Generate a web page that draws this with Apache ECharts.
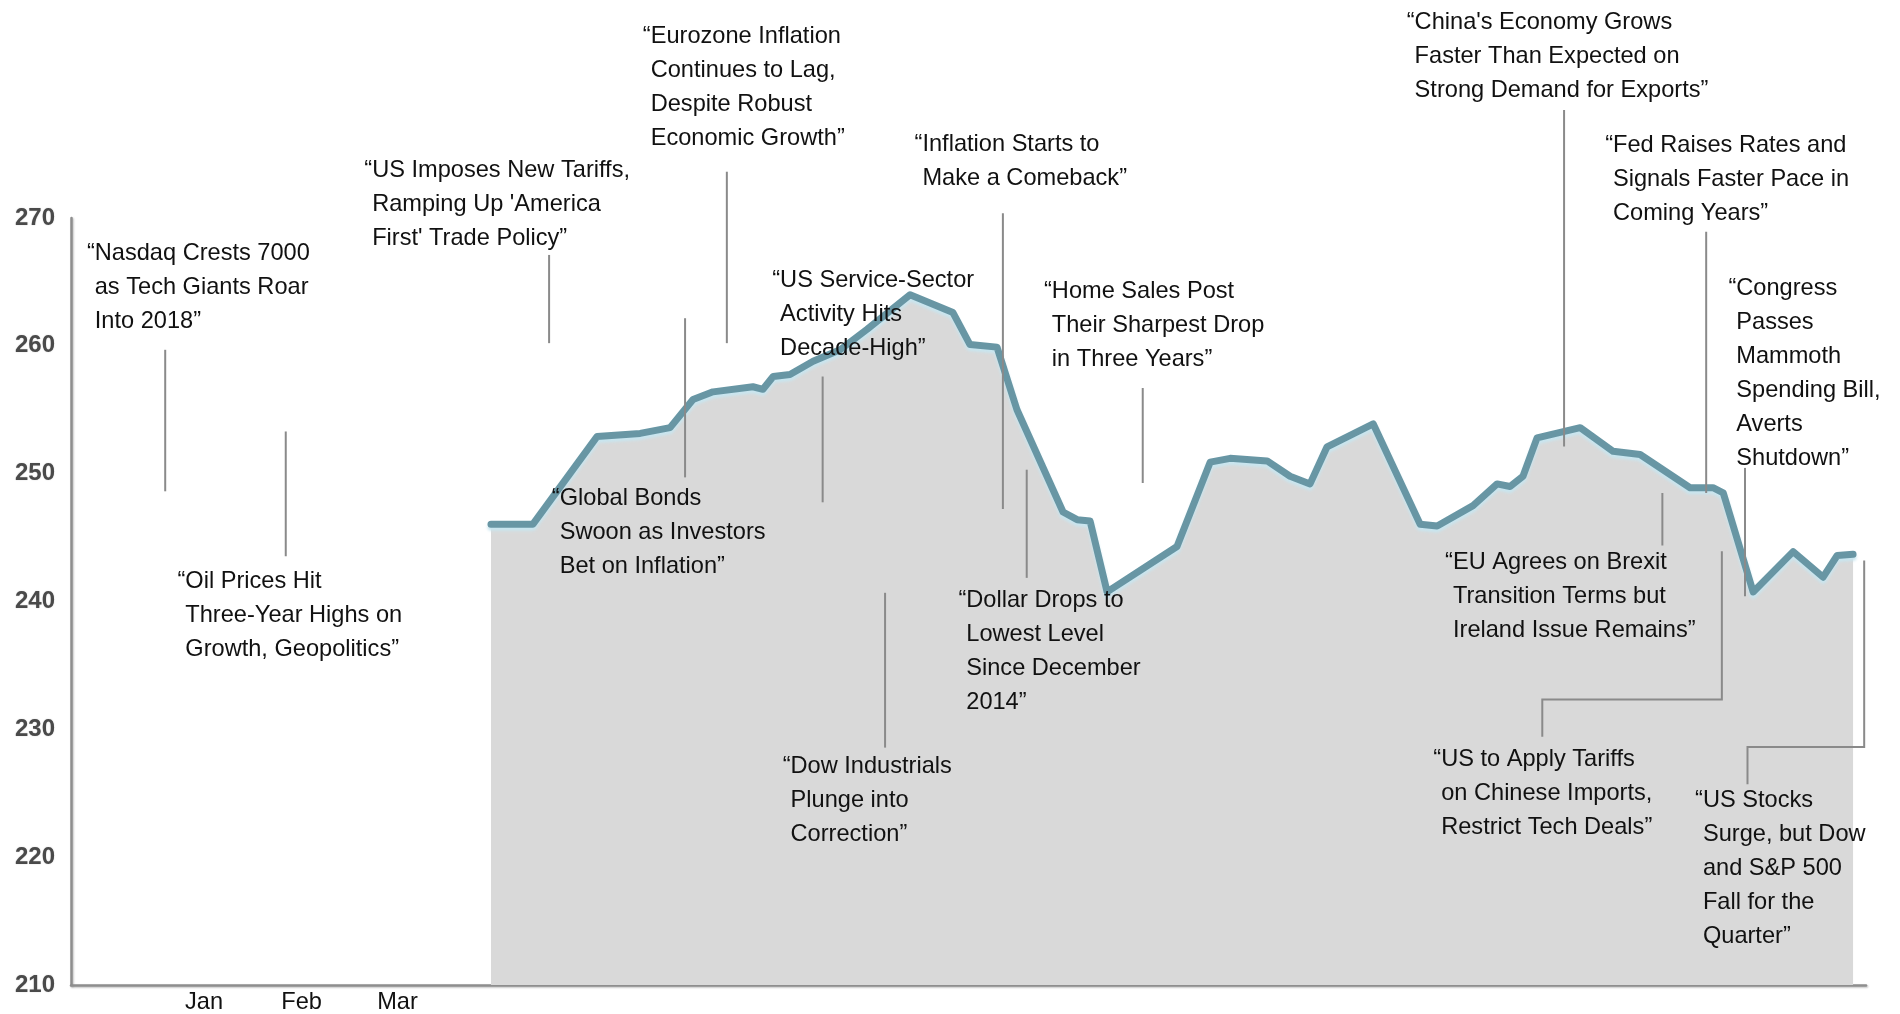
<!DOCTYPE html>
<html>
<head>
<meta charset="utf-8">
<script src="https://cdn.jsdelivr.net/npm/echarts@6/dist/echarts.min.js"></script>
<style>
  html, body { margin: 0; padding: 0; background: #ffffff; }
  #chart { width: 1900px; height: 1014px; }
</style>
</head>
<body>
<div id="chart"></div>
<script>
// ---- data ----------------------------------------------------------------
// Turning points of the index over the quarter: position on the session scale
// and the index level there.
const sessionPos = [
  18.50, 20.35, 23.17, 25.07, 26.39, 27.40, 28.28, 30.04, 30.48, 30.93,
  31.67, 32.69, 33.88, 35.07, 36.96, 38.85, 39.60, 40.79, 41.67, 43.70,
  44.32, 44.89, 45.64, 48.72, 50.18, 51.06, 52.69, 53.70, 54.58, 55.33,
  57.36, 59.43, 60.18, 61.76, 62.82, 63.39, 63.96, 64.58, 66.48, 67.93,
  69.12, 71.32, 72.33, 72.78, 74.10, 75.86, 77.18, 77.80, 78.50
];
const indexLevel = [
  246.05, 246.05, 252.9, 253.15, 253.6, 255.8, 256.4, 256.8, 256.6, 257.6,
  257.75, 258.8, 259.7, 261.3, 264.0, 262.6, 260.1, 259.9, 255.0, 247.0,
  246.4, 246.3, 240.75, 244.3, 250.9, 251.2, 251.0, 249.8, 249.2, 252.1,
  253.9, 246.05, 245.9, 247.5, 249.2, 249.0, 249.8, 252.8, 253.6, 251.75,
  251.5, 248.9, 248.9, 248.5, 240.75, 243.9, 241.9, 243.6, 243.7
];

// Value axis range and step
const levelMin = 210;
const levelMax = 270;
const levelStep = 10;

// Month labels along the bottom axis
const monthLabels = ['Jan', 'Feb', 'Mar'];
const monthPos = [5.86, 10.16, 14.38];

// Headlines, one entry per line of text
const headlines = [
  ['“Nasdaq Crests 7000', 'as Tech Giants Roar', 'Into 2018”'],
  ['“Oil Prices Hit', 'Three-Year Highs on', 'Growth, Geopolitics”'],
  ['“US Imposes New Tariffs,', "Ramping Up 'America", "First' Trade Policy”"],
  ['“Eurozone Inflation', 'Continues to Lag,', 'Despite Robust', 'Economic Growth”'],
  ['“Global Bonds', 'Swoon as Investors', 'Bet on Inflation”'],
  ['“US Service-Sector', 'Activity Hits', 'Decade-High”'],
  ['“Dow Industrials', 'Plunge into', 'Correction”'],
  ['“Inflation Starts to', 'Make a Comeback”'],
  ['“Dollar Drops to', 'Lowest Level', 'Since December', '2014”'],
  ['“Home Sales Post', 'Their Sharpest Drop', 'in Three Years”'],
  ['“China\'s Economy Grows', 'Faster Than Expected on', 'Strong Demand for Exports”'],
  ['“Fed Raises Rates and', 'Signals Faster Pace in', 'Coming Years”'],
  ['“Congress', 'Passes', 'Mammoth', 'Spending Bill,', 'Averts', 'Shutdown”'],
  ['“EU Agrees on Brexit', 'Transition Terms but', 'Ireland Issue Remains”'],
  ['“US to Apply Tariffs', 'on Chinese Imports,', 'Restrict Tech Deals”'],
  ['“US Stocks', 'Surge, but Dow', 'and S&P 500', 'Fall for the', 'Quarter”']
];

// ---- layout of the headline callouts (in axis units) -----------------------
// anchor: left edge / first-line middle of each headline; leader: connector path
const calloutLayout = [
  { anchor: [0.70, 267.24],  leader: [[4.15, 259.69], [4.15, 248.62]] },
  { anchor: [4.69, 241.59],  leader: [[9.46, 253.30], [9.46, 243.54]] },
  { anchor: [12.92, 273.75], leader: [[21.06, 267.11], [21.06, 260.21]] },
  { anchor: [25.19, 284.22], leader: [[28.89, 273.62], [28.89, 260.21]] },
  { anchor: [21.18, 248.05], leader: [[27.05, 262.16], [27.05, 249.71]] },
  { anchor: [30.89, 265.08], leader: [[33.11, 257.60], [33.11, 247.76]] },
  { anchor: [31.35, 227.09], leader: [[35.86, 240.68], [35.86, 228.57]] },
  { anchor: [37.16, 275.78], leader: [[41.05, 270.37], [41.05, 247.24]] },
  { anchor: [39.09, 240.10], leader: [[42.10, 250.31], [42.10, 241.85]] },
  { anchor: [42.86, 264.22], leader: [[47.21, 256.70], [47.21, 249.27]] },
  { anchor: [58.84, 285.29], leader: [[65.77, 278.44], [65.77, 252.13]] },
  { anchor: [67.58, 275.65], leader: [[72.03, 268.93], [72.03, 248.49]] },
  { anchor: [73.01, 264.49], leader: [[73.74, 250.45], [73.74, 240.41]] },
  { anchor: [60.53, 243.09], leader: [[70.10, 248.49], [70.10, 244.38]] },
  { anchor: [60.01, 227.62],
    leader: [[72.72, 243.93], [72.72, 232.34], [64.81, 232.34], [64.81, 229.42]] },
  { anchor: [71.54, 224.47],
    leader: [[78.99, 243.21], [78.99, 228.62], [73.85, 228.62], [73.85, 225.70]] }
];

const FONT = '"Liberation Sans", Arial, Helvetica, sans-serif';
const TEXT_SIZE = 23.6;
const LINE_H = 34;
const QUOTE_W = 0.333 * TEXT_SIZE;

const chart = echarts.init(document.getElementById('chart'), null, { renderer: 'canvas' });

const axisLineStyle = {
  color: '#8e8e8e',
  width: 2.5,
  shadowColor: 'rgba(0,0,0,0.25)',
  shadowBlur: 2,
  shadowOffsetX: 1,
  shadowOffsetY: 1
};

chart.setOption({
  animation: false,
  backgroundColor: '#ffffff',
  grid: { left: 71, right: 34, top: 218, bottom: 28, containLabel: false },
  xAxis: {
    type: 'value',
    min: 0,
    max: 79.07,
    axisLine: { show: true, lineStyle: axisLineStyle },
    axisTick: { show: false },
    splitLine: { show: false },
    axisLabel: {
      customValues: monthPos,
      margin: 5,
      color: '#111111',
      fontFamily: FONT,
      fontSize: 23.6,
      formatter: function (v) {
        const i = monthPos.findIndex(p => Math.abs(p - v) < 1e-6);
        return i >= 0 ? monthLabels[i] : '';
      }
    }
  },
  yAxis: {
    type: 'value',
    min: levelMin,
    max: levelMax,
    interval: levelStep,
    axisLine: { show: true, lineStyle: axisLineStyle },
    axisTick: { show: false },
    splitLine: { show: false },
    axisLabel: {
      margin: 16,
      color: '#4a4a4a',
      fontFamily: FONT,
      fontWeight: 'bold',
      fontSize: 24,
      textShadowColor: 'rgba(0,0,0,0.2)',
      textShadowBlur: 1.5
    }
  },
  series: [{
    type: 'line',
    data: sessionPos.map((x, i) => [x, indexLevel[i]]),
    showSymbol: false,
    symbol: 'none',
    z: 3,
    lineStyle: {
      color: '#6896a4',
      width: 7,
      join: 'round',
      cap: 'round',
      shadowColor: 'rgba(200,230,240,1)',
      shadowBlur: 3,
      shadowOffsetY: 3
    },
    areaStyle: { color: '#d9d9d9', opacity: 1, origin: 'start' }
  }]
});

// ---- headline callouts -------------------------------------------------------
const toPx = p => chart.convertToPixel({ gridIndex: 0 }, p);
const callouts = [];
headlines.forEach((lines, i) => {
  const lay = calloutLayout[i];
  const a = toPx(lay.anchor);
  const first = lines[0];
  const openQuote = first.charAt(0);
  const body = [first.slice(1)].concat(lines.slice(1)).join('\n');
  callouts.push({
    type: 'polyline',
    z: 90,
    silent: true,
    shape: { points: lay.leader.map(toPx) },
    style: { stroke: '#8a8a8a', lineWidth: 2, fill: null }
  });
  callouts.push({
    type: 'group',
    x: a[0],
    y: a[1],
    z: 100,
    silent: true,
    children: [
      {
        type: 'text',
        z: 100,
        style: {
          text: openQuote, x: QUOTE_W, y: 0, align: 'right', verticalAlign: 'middle',
          fill: '#111111', fontFamily: FONT, fontSize: TEXT_SIZE
        }
      },
      {
        type: 'text',
        z: 100,
        style: {
          text: body, x: QUOTE_W, y: -LINE_H / 2, align: 'left', verticalAlign: 'top',
          lineHeight: LINE_H, fill: '#111111', fontFamily: FONT, fontSize: TEXT_SIZE
        }
      }
    ]
  });
});
chart.setOption({ graphic: { elements: callouts } });
</script>
</body>
</html>
